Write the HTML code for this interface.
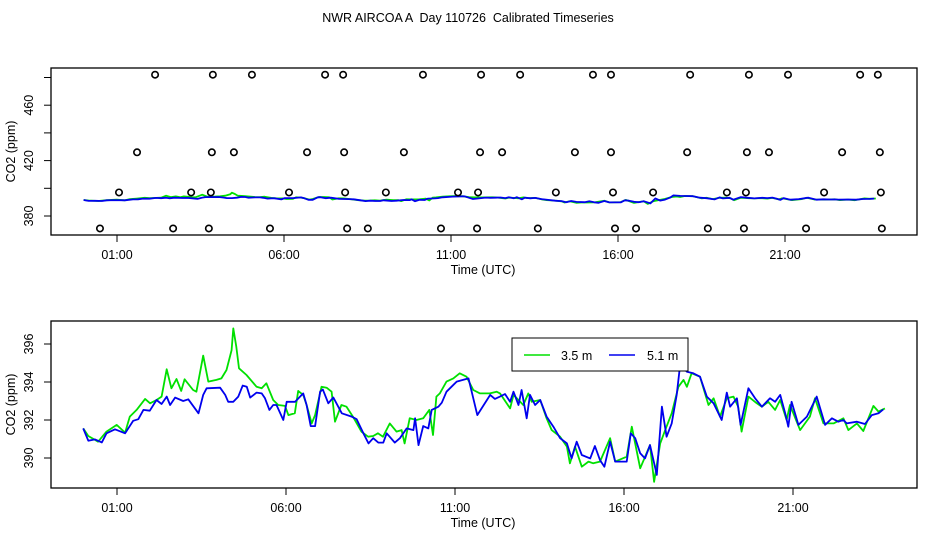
<!DOCTYPE html>
<html><head><meta charset="utf-8"><style>
html,body{margin:0;padding:0;background:#fff;}
svg{display:block;font-family:"Liberation Sans",sans-serif;}
</style></head><body>
<svg id="chart" width="936" height="540" viewBox="0 0 936 540">
<text x="468" y="22" text-anchor="middle" font-size="12.5" style="white-space:pre">NWR AIRCOA A  Day 110726  Calibrated Timeseries</text>
<g id="topPanel"></g>
<g id="botPanel"></g>
</svg>
<script>
const xTickHours=[1,6,11,16,21];
const xTickLabels=["01:00","06:00","11:00","16:00","21:00"];
const topYTicks=[380,400,420,440,460,480];
const topYLabels=[380,420,460];
const botYTicks=[390,392,394,396];
// outlier / flag points (hour, value level)
const ptHours480=[2.14,3.87,5.04,7.23,7.77,10.16,11.90,13.07,15.25,15.79,18.16,19.92,21.09,23.25,23.78];
const ptHours426=[1.60,3.84,4.50,6.69,7.80,9.59,11.87,12.53,14.71,15.79,18.07,19.86,20.52,22.71,23.84];
const ptHours397=[1.06,3.22,3.81,6.15,7.83,9.05,11.21,11.81,14.14,15.85,17.05,19.26,19.83,22.17,23.87];
const ptHours371=[0.49,2.68,3.75,5.58,7.89,8.51,10.70,11.78,13.60,15.91,16.54,18.69,19.77,21.63,23.90];
const ptLevels=[482,426,397,371];
// 3.5 m series
const gHours=[0,0.15,0.44,0.69,0.99,1.24,1.38,1.58,1.83,1.98,2.17,2.32,2.47,2.61,2.76,2.90,3.00,3.25,3.35,3.55,3.70,3.94,4.09,4.24,4.39,4.44,4.53,4.61,4.83,5.13,5.28,5.42,5.62,5.77,5.97,6.07,6.26,6.36,6.51,6.61,6.76,6.86,7.05,7.20,7.35,7.45,7.64,7.79,7.98,8.23,8.43,8.58,8.72,8.87,9.07,9.27,9.42,9.51,9.66,9.86,10.06,10.24,10.35,10.45,10.55,10.75,10.95,11.14,11.34,11.54,11.74,12.03,12.23,12.33,
12.63,12.73,12.88,13.02,13.17,13.27,13.52,13.71,13.86,14.11,14.31,14.40,14.55,14.75,14.95,15.09,15.29,15.59,15.74,16.08,16.23,16.48,16.77,16.89,17.07,17.22,17.41,17.61,17.76,17.86,18.00,18.25,18.50,18.65,18.84,19.04,19.24,19.38,19.48,19.68,19.93,20.08,20.27,20.47,20.62,20.81,20.91,21.21,21.50,21.65,21.90,22.20,22.49,22.64,22.89,23.08,23.38,23.53,23.72];
const gVals=[391.56,391.16,390.86,391.39,391.74,391.33,392.18,392.53,393.11,392.88,393.05,393.23,394.67,393.67,394.16,393.53,394.14,393.58,393.49,395.39,394.02,394.11,394.19,394.63,395.68,396.82,395.86,394.72,394.37,393.75,393.67,393.93,393.05,392.79,392.74,392.26,392.35,393.53,393.32,392.79,391.82,392.26,393.75,393.70,393.49,391.91,392.79,392.70,392.18,391.39,391.12,391.16,391.30,391.12,391.82,391.39,391.47,390.77,392.09,392.00,392.09,392.53,391.21,393.23,393.40,394.02,394.19,394.46,394.28,393.58,393.40,393.40,393.49,393.40,
392.61,393.32,393.05,392.79,393.40,392.96,393.05,392.09,391.47,391.12,390.60,389.72,390.60,389.54,389.81,389.72,389.81,391.04,389.81,390.07,391.65,389.46,390.68,388.75,390.77,391.47,392.35,393.75,394.11,393.75,394.46,394.28,392.79,393.14,392.18,393.14,393.23,392.70,391.39,393.23,392.88,392.70,392.96,392.53,393.05,392.00,392.79,391.47,392.18,393.14,391.82,391.82,392.09,391.47,391.82,391.42,392.74,392.44,392.61];
// 5.1 m series
const bHours=[0,0.15,0.35,0.55,0.69,0.94,1.24,1.48,1.63,1.78,1.97,2.17,2.32,2.47,2.57,2.72,2.96,3.11,3.41,3.55,3.65,4.05,4.20,4.29,4.44,4.59,4.72,4.84,4.94,5.13,5.28,5.38,5.51,5.62,5.72,5.92,6.02,6.27,6.51,6.61,6.73,6.86,7.01,7.09,7.25,7.40,7.65,7.94,8.09,8.29,8.44,8.58,8.73,8.88,8.98,9.22,9.37,9.57,9.77,9.82,9.92,10.06,10.21,10.31,10.51,10.61,10.75,11.05,11.40,11.66,12.04,12.18,12.33,
12.48,12.63,12.73,12.88,12.97,13.12,13.22,13.37,13.52,13.71,13.91,14.11,14.31,14.45,14.60,14.75,15.00,15.14,15.29,15.42,15.59,15.74,16.08,16.20,16.33,16.48,16.62,16.77,16.97,17.12,17.26,17.41,17.56,17.66,17.86,18.05,18.25,18.45,18.65,18.89,19.04,19.14,19.34,19.45,19.68,19.88,20.08,20.32,20.47,20.62,20.77,20.86,20.96,21.16,21.41,21.70,21.95,22.15,22.34,22.49,22.59,22.89,23.13,23.33,23.53,23.67];
const bVals=[391.56,390.91,390.98,390.82,391.30,391.51,391.30,391.96,392.04,392.53,392.49,393.05,392.84,393.23,392.79,393.18,393.00,393.09,392.35,393.32,393.67,393.70,393.32,392.96,392.96,393.23,393.81,393.75,393.18,393.44,393.40,393.14,392.53,392.79,392.79,392.00,392.96,392.96,393.40,392.79,391.68,391.68,393.49,393.61,392.88,393.19,392.35,392.18,392.04,391.30,390.77,391.04,390.81,390.81,391.30,390.81,391.04,391.56,391.47,392.09,390.68,391.68,391.56,392.53,392.70,392.91,393.49,394.02,394.19,392.26,393.32,393.11,393.23,
393.37,392.96,393.49,392.79,393.58,392.09,393.32,392.79,393.05,392.18,391.65,391.04,390.77,389.98,390.86,390.16,389.98,390.63,389.89,389.54,390.86,389.81,389.81,391.30,391.04,390.25,389.98,390.68,389.11,392.70,391.12,391.82,393.32,394.89,394.54,394.46,394.28,393.23,392.88,392.00,393.44,392.70,393.14,391.74,393.67,393.14,392.70,393.14,392.96,393.32,392.35,391.65,392.96,391.74,392.18,393.23,391.74,392.09,391.91,392.00,391.82,391.91,391.79,392.26,392.35,392.56];

const NS="http://www.w3.org/2000/svg";
function mk(parent,tag,attrs,text){const e=document.createElementNS(NS,tag);for(const k in attrs)e.setAttribute(k,attrs[k]);if(text!==undefined)e.textContent=text;parent.appendChild(e);return e;}

function panel(g,box,xs,ys,yTicks,yLabels){
  const r=mk(g,'rect',{x:box.l,y:box.t,width:box.r-box.l,height:box.b-box.t,fill:'none',stroke:'#000','stroke-width':1.3});
  
  
  xTickHours.forEach((h,i)=>{
    const x=xs(h);
    const t=mk(g,'line',{x1:x,x2:x,y1:box.b,y2:box.b+7,stroke:'#000'});
    
    
    const lb=mk(g,'text',{x:x,y:box.b+24,'text-anchor':'middle','font-size':12.5},xTickLabels[i]);
    
    
  });
  yTicks.forEach(v=>{
    const y=ys(v);
    const t=mk(g,'line',{x1:box.l-7,x2:box.l,y1:y,y2:y,stroke:'#000'});
    
    
  });
  yLabels.forEach(v=>{
    const y=ys(v);
    const lb=mk(g,'text',{x:0,y:0,'text-anchor':'middle','font-size':12.5,transform:`translate(33,${y}) rotate(-90)`},String(v));
    
    
  });
  const xt=mk(g,'text',{x:(box.l+box.r)/2-1,y:box.b+39,'text-anchor':'middle','font-size':12.5},'Time (UTC)');
  
  
  const yt=mk(g,'text',{x:0,y:0,'text-anchor':'middle','font-size':12.5,transform:`translate(15,${(box.t+box.b)/2}) rotate(-90)`},'CO2 (ppm)');
  
  
}
function series(g,hours,vals,xs,ys,color,name){
  const d=hours.map((h,i)=>(i?'L':'M')+xs(h).toFixed(1)+','+ys(vals[i]).toFixed(1)).join(' ');
  const p=mk(g,'path',{d:d,fill:'none',stroke:color,'stroke-width':1.8,'stroke-linejoin':'round'});
  
  
}

// top panel
const topG=document.getElementById('topPanel');
const tbox={l:51,r:917,t:68,b:235};
const txs=h=>117+(h-1)*33.4;
const tys=v=>216-(v-380)*27.7/20;
panel(topG,tbox,txs,tys,topYTicks,topYLabels);
series(topG,gHours,gVals,txs,tys,'#00e000','series-3-5m-top');
series(topG,bHours,bVals,txs,tys,'#0000ee','series-5-1m-top');
[ptHours480,ptHours426,ptHours397,ptHours371].forEach((arr,k)=>{
  arr.forEach(h=>{
    const c=mk(topG,'circle',{cx:txs(h),cy:tys(ptLevels[k]),r:3.2,fill:'none',stroke:'#000','stroke-width':1.6});
    
    
  });
});

// bottom panel
const botG=document.getElementById('botPanel');
const bbox={l:51,r:917,t:321,b:488};
const bxs=h=>117+(h-1)*33.8;
const bys=v=>420-(v-392)*19;
panel(botG,bbox,bxs,bys,botYTicks,botYTicks);
series(botG,gHours,gVals,bxs,bys,'#00e000','series-3-5m');
series(botG,bHours,bVals,bxs,bys,'#0000ee','series-5-1m');

// legend
const lg=mk(botG,'g',{});


mk(lg,'rect',{x:512,y:338,width:176,height:33,fill:'#fff',stroke:'#000','stroke-width':1});
const l1=mk(lg,'line',{x1:524,x2:550,y1:355,y2:355,stroke:'#00e000','stroke-width':1.5});


const t1=mk(lg,'text',{x:561,y:360,'font-size':12.5},'3.5 m');


const l2=mk(lg,'line',{x1:609,x2:635,y1:355,y2:355,stroke:'#0000ee','stroke-width':1.5});


const t2=mk(lg,'text',{x:647,y:360,'font-size':12.5},'5.1 m');


</script>
</body></html>
